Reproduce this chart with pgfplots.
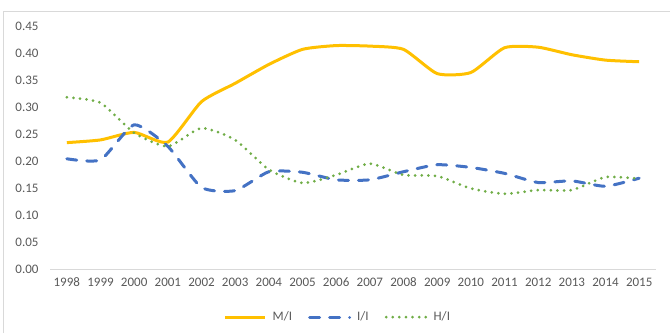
\documentclass[border=0pt]{standalone}
\usepackage{pgfplots}
\pgfplotsset{compat=1.18}
\usepackage{fontspec}
\setmainfont{Carlito}
\definecolor{cM}{HTML}{FFC000}
\definecolor{cI}{HTML}{4472C4}
\definecolor{cH}{HTML}{70AD47}
\definecolor{txt}{HTML}{595959}
\definecolor{bord}{HTML}{D9D9D9}
\begin{document}
\begin{tikzpicture}[x=1bp,y=1bp]
\useasboundingbox (0,0) rectangle (670,-333);
\draw[bord, line width=1bp] (3,-333) -- (3,-11) -- (670,-11);
\begin{axis}[
  at={(50bp,-269.3bp)}, anchor=south west,
  scale only axis, width=606bp, height=242.6bp,
  xmin=1997.5, xmax=2015.5, ymin=0, ymax=0.45,
  axis lines*=left,
  x axis line style={draw=bord, line width=1bp, -},
  y axis line style={draw=none},
  major tick length=0pt,
  xtick={1998,1999,2000,2001,2002,2003,2004,2005,2006,2007,2008,2009,2010,2011,2012,2013,2014,2015},
  ytick={0,0.05,0.10,0.15,0.20,0.25,0.30,0.35,0.40,0.45},
  x tick label style={/pgf/number format/1000 sep={}, text=txt, yshift=-5bp},
  y tick label style={/pgf/number format/fixed, /pgf/number format/zerofill, /pgf/number format/precision=2, text=txt, xshift=-8bp},
  /pgf/number format/assume math mode=true,
  tick label style={font=\fontsize{13bp}{15bp}\selectfont},
  legend style={at={(0.475,-0.197)}, anchor=center, draw=none, fill=none,
    legend columns=3, font=\fontsize{13bp}{15bp}\selectfont\color{txt},
    /tikz/every even column/.append style={column sep=14bp},
    /tikz/every odd column/.append style={column sep=4bp}},
  legend cell align=left,
  legend image code/.code={\draw[#1] (0bp,0bp) -- (40bp,0bp);},
  clip=false,
]
\addplot[cM, line width=3bp, smooth, tension=0.35] coordinates {
(1998,0.235) (1999,0.240) (2000,0.254) (2001,0.236) (2002,0.311) (2003,0.345)
(2004,0.380) (2005,0.408) (2006,0.415) (2007,0.414) (2008,0.408) (2009,0.363)
(2010,0.365) (2011,0.411) (2012,0.412) (2013,0.398) (2014,0.388) (2015,0.385)};
\addlegendentry{M/I}
\addplot[cI, line width=3bp, line cap=round, dash pattern=on 10bp off 10bp, smooth, tension=0.35] coordinates {
(1998,0.205) (1999,0.203) (2000,0.268) (2001,0.228) (2002,0.152) (2003,0.146)
(2004,0.181) (2005,0.180) (2006,0.166) (2007,0.166) (2008,0.181) (2009,0.194)
(2010,0.189) (2011,0.178) (2012,0.161) (2013,0.164) (2014,0.154) (2015,0.169)};
\addlegendentry{I/I}
\addplot[cH, line width=3bp, line cap=round, dash pattern=on 0bp off 6.6bp, smooth, tension=0.35] coordinates {
(1998,0.319) (1999,0.309) (2000,0.253) (2001,0.228) (2002,0.262) (2003,0.240)
(2004,0.185) (2005,0.160) (2006,0.175) (2007,0.196) (2008,0.175) (2009,0.173)
(2010,0.150) (2011,0.140) (2012,0.147) (2013,0.147) (2014,0.171) (2015,0.168)};
\addlegendentry{H/I}
\end{axis}
\end{tikzpicture}
\end{document}
